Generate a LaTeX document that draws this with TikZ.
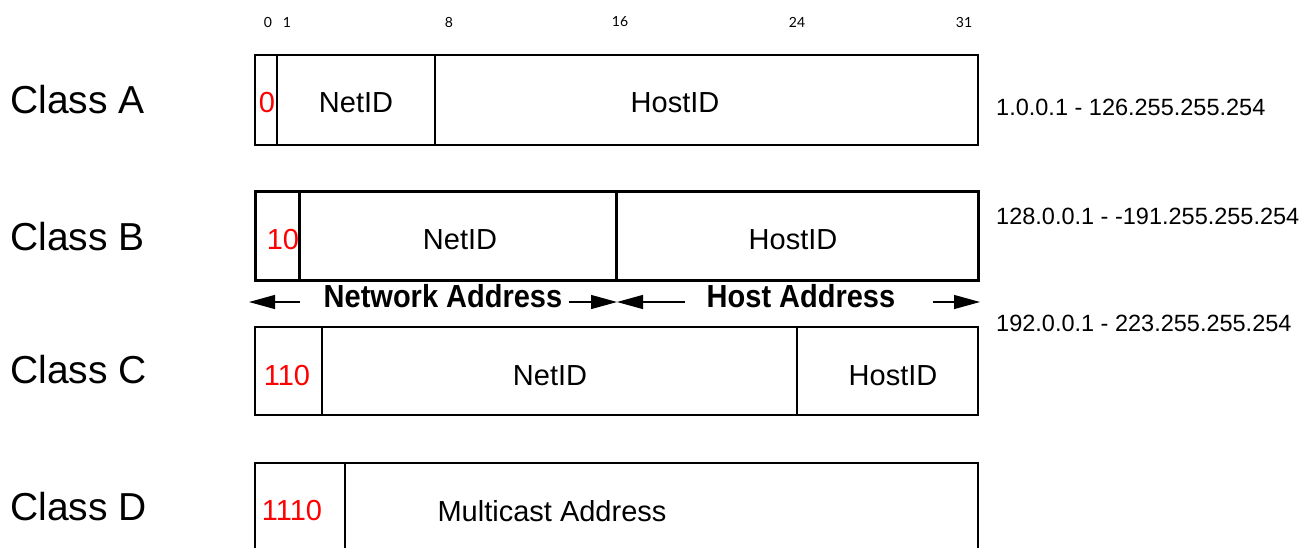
\documentclass[tikz,border=0pt]{standalone}
\usepackage{fontspec}
\setmainfont{Liberation Sans}
\newfontfamily\bitfont{Lato}
\usetikzlibrary{arrows.meta}
\begin{document}
\begin{tikzpicture}[x=1pt,y=-1pt,
  cell/.style={draw, anchor=north west, inner sep=0pt, outer sep=0pt},
  boxthin/.style={line width=1.2pt},
  boxthick/.style={line width=3pt},
  boxmid/.style={line width=1.8pt},
  lbl/.style={font=\fontsize{39}{44}\selectfont, anchor=west, inner sep=0pt},
  txt/.style={font=\fontsize{29}{33}\selectfont, inner sep=0pt},
  bitstxt/.style={txt, text=red},
  rng/.style={font=\fontsize{23.5}{27}\selectfont, anchor=west, inner sep=0pt},
  bitno/.style={font=\bitfont\fontsize{14}{16}\selectfont, inner sep=0pt},
  boldtxt/.style={font=\bfseries\fontsize{29}{33}\selectfont, inner sep=0pt},
  arr/.style={-{Triangle[length=26pt,width=14pt]}, line width=1.2pt}
]
\useasboundingbox (0,0) rectangle (1316,547);
\clip (0,0) rectangle (1316,547);

% bit numbers
\node[bitno] (n0) at (268,22) {0};
\node[bitno] (n1) at (287,22) {1};
\node[bitno] (n8) at (449,22) {8};
\node[bitno] (n16) at (620,22) {16};
\node[bitno] (n24) at (797,22) {24};
\node[bitno] (n31) at (964,22) {31};

% class labels
\node[lbl] (la) at (10,100) {Class A};
\node[lbl] (lb) at (10,237) {Class B};
\node[lbl] (lc) at (10,370) {Class C};
\node[lbl] (ld) at (10,507) {Class D};

% Class A
\node[cell, boxthin, minimum width=22pt, minimum height=90pt] (a0) at (255,55) {};
\node[cell, boxthin, minimum width=158pt, minimum height=90pt] (a1) at (a0.north east) {};
\node[cell, boxthin, minimum width=543pt, minimum height=90pt] (a2) at (a1.north east) {};
\node[bitstxt] (ta0) at (267,103) {0};
\node[txt] (ta1) at (356,103) {NetID};
\node[txt] (ta2) at (675,103) {HostID};

% Class B
\node[cell, boxthick, minimum width=44pt, minimum height=89pt] (b0) at (255,191) {};
\node[cell, boxthick, minimum width=317pt, minimum height=89pt] (b1) at (b0.north east) {};
\node[cell, boxthick, minimum width=362pt, minimum height=89pt] (b2) at (b1.north east) {};
\node[bitstxt] (tb0) at (283,240) {10};
\node[txt] (tb1) at (460,240) {NetID};
\node[txt] (tb2) at (793,240) {HostID};

% address arrows
\node[boldtxt] (net) at (443,296) {\scalebox{1}[1.1]{Network Address}};
\node[boldtxt] (host) at (801,296) {\scalebox{1}[1.1]{Host Address}};
\coordinate (nl) at (249,302);
\coordinate (nl1) at (300,302);
\coordinate (nr1) at (569,302);
\coordinate (mid) at (617,302);
\coordinate (hl1) at (685,302);
\coordinate (hr1) at (933,302);
\coordinate (hr) at (980,302);
\draw[arr] (nl1) -- (nl);
\draw[arr] (nr1) -- (mid);
\draw[arr] (hl1) -- (mid);
\draw[arr] (hr1) -- (hr);

% Class C
\node[cell, boxthin, minimum width=67pt, minimum height=88pt] (c0) at (255,327) {};
\node[cell, boxthin, minimum width=475pt, minimum height=88pt] (c1) at (c0.north east) {};
\node[cell, boxthin, minimum width=181pt, minimum height=88pt] (c2) at (c1.north east) {};
\node[bitstxt] (tc0) at (287,376) {110};
\node[txt] (tc1) at (550,376) {NetID};
\node[txt] (tc2) at (893,376) {HostID};

% Class D
\node[cell, boxmid, minimum width=90pt, minimum height=95pt] (d0) at (255,463) {};
\node[cell, boxmid, minimum width=633pt, minimum height=95pt] (d1) at (d0.north east) {};
\node[bitstxt] (td0) at (292,511) {1110};
\node[txt] (td1) at (552,511) {Multicast Address};

% ranges
\node[rng] (ra) at (996,107) {1.0.0.1 - 126.255.255.254};
\node[rng] (rb) at (996,216) {128.0.0.1 - -191.255.255.254};
\node[rng] (rc) at (996,323) {192.0.0.1 - 223.255.255.254};
\end{tikzpicture}
\end{document}
